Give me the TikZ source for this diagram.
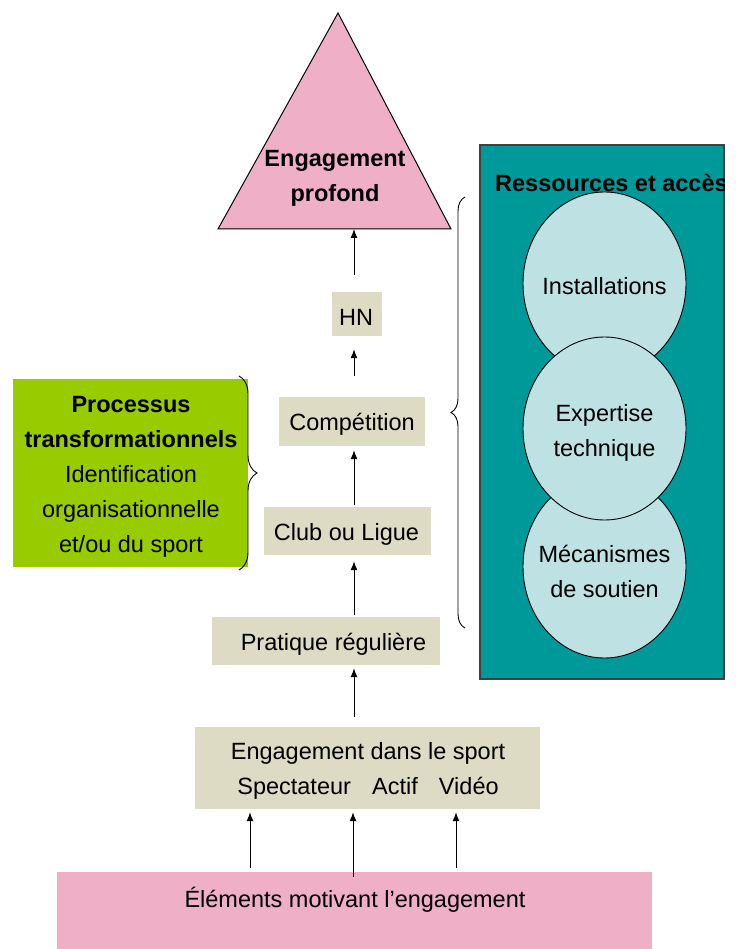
\documentclass[tikz,border=0pt]{standalone}
\usepackage{fontspec}
\setmainfont{Liberation Sans}
\usetikzlibrary{shapes.geometric,arrows.meta,decorations.pathreplacing}
\definecolor{pinkc}{RGB}{239,175,199}
\definecolor{beigec}{RGB}{221,219,196}
\definecolor{tealc}{RGB}{0,153,153}
\definecolor{lightc}{RGB}{190,225,227}
\definecolor{greenc}{RGB}{153,204,0}
\begin{document}
\begin{tikzpicture}[x=1pt,y=-1pt,
  every node/.style={font=\fontsize{23.5}{35}\selectfont, inner sep=0pt, align=center},
  txt/.style={yshift=-3pt},
  boxc/.style={rectangle, fill=beigec, draw=none},
  arr/.style={-{Latex[length=9pt,width=7pt]}, line width=1pt, black},
  circ/.style={ellipse, draw=black, line width=0.9pt, fill=lightc, minimum width=163pt, minimum height=183pt},
  bracec/.style={decorate, decoration={brace}, line width=0.9pt}]
\useasboundingbox (0,0) rectangle (737,949);
% triangle
\draw[fill=pinkc, line width=1pt] (218,229) -- (338,13) -- (451,229) -- cycle;
\coordinate (tri) at (354,229);
\node[txt, font=\fontsize{23.5}{35}\selectfont\bfseries] (tritxt) at (335,175) {Engagement\\profond};
% column boxes
\coordinate (col) at (354,0);
\node[boxc, minimum width=50pt, minimum height=44pt] (hn) at (357,314) {};
\node[txt] (hnt) at (356,314) {HN};
\node[boxc, minimum width=146pt, minimum height=49pt] (comp) at (352,421.5) {};
\node[txt] (compt) at (352,421.5) {Compétition};
\node[boxc, minimum width=167pt, minimum height=48pt] (club) at (347.5,531) {};
\node[txt] (clubt) at (346.5,531) {Club ou Ligue};
\node[boxc, minimum width=228pt, minimum height=48pt] (prat) at (326,641) {};
\node[txt] (pratt) at (333.5,641) {Pratique régulière};
\node[boxc, minimum width=345pt, minimum height=82pt] (eng) at (367.5,768) {};
\node[txt] (engt) at (368,768) {Engagement dans le sport\\Spectateur\hspace{0.9em}Actif\hspace{0.9em}Vidéo};
\node[rectangle, fill=pinkc, minimum width=595pt, minimum height=77pt] (elem) at (354.5,910.5) {};
\node[txt] (elemt) at (355,897) {Éléments motivant l’engagement};
% arrows
\draw[arr, shorten <=17pt] (hn.north -| col) -- (tri);
\draw[arr, shorten <=21pt, shorten >=13pt] (comp.north -| col) -- (hn.south -| col);
\draw[arr, shorten <=2pt, shorten >=4pt] (club.north -| col) -- (comp.south -| col);
\draw[arr, shorten <=2pt, shorten >=6pt] (prat.north -| col) -- (club.south -| col);
\draw[arr, shorten <=10pt, shorten >=3pt] (eng.north -| col) -- (prat.south -| col);
\coordinate (c1) at (250,0);
\coordinate (c2) at (353,0);
\coordinate (c3) at (456,0);
\draw[arr, shorten <=4pt, shorten >=3pt] (elem.north -| c1) -- (eng.south -| c1);
\draw[arr, shorten <=-5pt, shorten >=3pt] (elem.north -| c2) -- (eng.south -| c2);
\draw[arr, shorten <=4pt, shorten >=3pt] (elem.north -| c3) -- (eng.south -| c3);
% resources box
\node[rectangle, fill=tealc, draw=black!75, line width=1.3pt, minimum width=244pt, minimum height=534pt] (res) at (602,412) {};
\begin{scope}
\clip (480,145) rectangle (724,679);
\node[txt, anchor=west, font=\fontsize{23.5}{35}\selectfont\bfseries] (restitle) at (495,180) {Ressources et accès};
\end{scope}
\node[circ] (inst) at (604.5,283.5) {};
\node[txt] (instt) at (604.5,283.5) {Installations};
\node[circ] (meca) at (604.5,566.5) {};
\node[txt] (mecat) at (604.5,568) {Mécanismes\\de soutien};
\node[circ] (expe) at (604.5,428.5) {};
\node[txt] (expet) at (604.5,430) {Expertise\\technique};
% green box
\node[rectangle, fill=greenc, minimum width=235pt, minimum height=188pt] (proc) at (130.5,473) {};
\node[txt] (proct) at (131,473.5) {\textbf{Processus}\\\textbf{transformationnels}\\Identification\\organisationnelle\\et/ou du sport};
% braces
\coordinate (lbt) at (239,376);
\coordinate (lbb) at (239,570);
\draw[bracec, decoration={amplitude=18pt}] (lbt) -- (lbb);
\coordinate (rbt) at (465,197);
\coordinate (rbb) at (465,628);
\draw[bracec, decoration={amplitude=14pt}] (rbb) -- (rbt);
\end{tikzpicture}
\end{document}
